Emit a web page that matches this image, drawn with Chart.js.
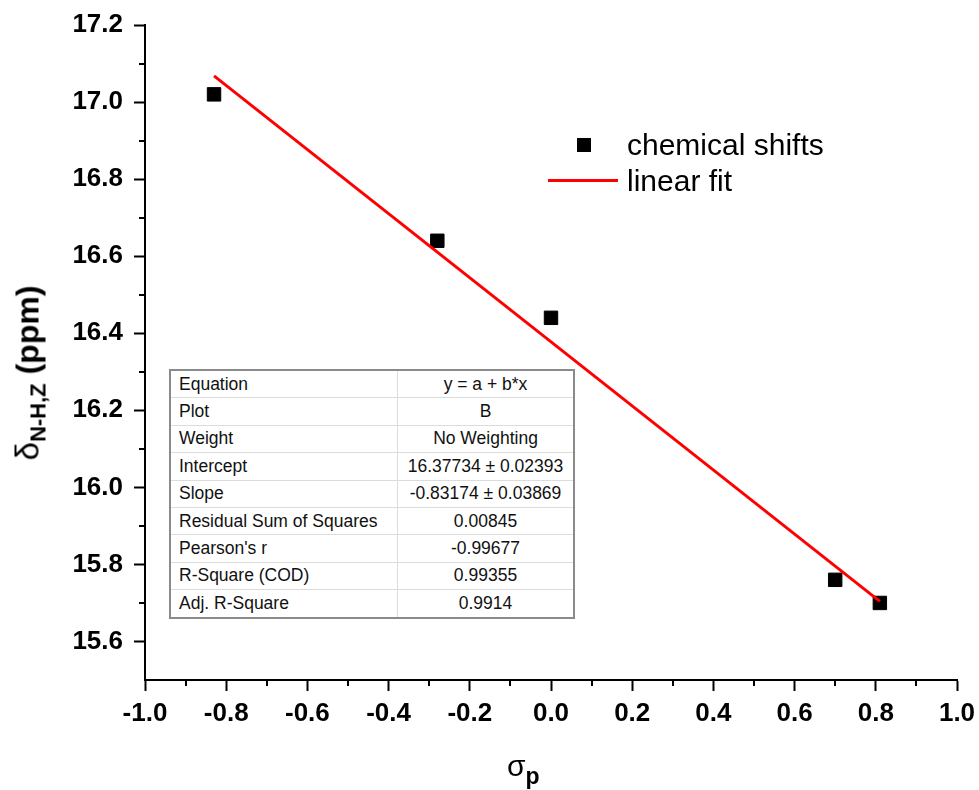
<!DOCTYPE html>
<html>
<head>
<meta charset="utf-8">
<script src="https://cdn.jsdelivr.net/npm/chart.js@4.4.1/dist/chart.umd.min.js"></script>
<style>
  body { margin: 0; background: #fff; }
  #wrap { position: relative; width: 979px; height: 790px; font-family: "Liberation Sans", Arial, sans-serif; color: #000; }
  #myChart { position: absolute; left: 0; top: 0; }
  .ytitle { position: absolute; left: 30px; top: 373px; transform: translate(-50%, -50%) rotate(-90deg); white-space: nowrap; font-size: 32px; font-weight: bold; line-height: 1; }
  .ytitle .g { font-weight: normal; font-size: 33px; }
  .ytitle sub { font-size: 22px; vertical-align: -7px; }
  .xtitle { position: absolute; left: 507px; top: 751px; white-space: nowrap; font-size: 30px; line-height: 1; }
  .xtitle sub { font-size: 23px; font-weight: bold; vertical-align: -8px; }
  #legend { position: absolute; left: 548px; top: 127px; font-size: 30px; }
  #legend .row { display: flex; align-items: center; height: 36px; }
  #legend .mk { width: 70px; height: 36px; position: relative; margin-right: 9px; }
  #legend .sq { position: absolute; left: 29px; top: 11px; width: 14px; height: 14px; background: #000; }
  #legend .ln { position: absolute; left: 0; top: 16px; width: 70px; height: 3px; background: #ff0000; }
  #fitTable { position: absolute; left: 169px; top: 369px; border-collapse: collapse; border: 2px solid #8a8a8a; background: #fff; font-size: 17.5px; color: #111; }
  #fitTable td { height: 26.4px; padding: 0; border: 1px solid #dcdcdc; white-space: nowrap; }
  #fitTable td.k { width: 218px; padding-left: 8px; }
  #fitTable td.v { width: 175px; text-align: center; }
</style>
</head>
<body>
<div id="wrap">
  <canvas id="myChart" width="979" height="790"></canvas>
  <div class="ytitle"><span class="g">δ</span><sub>N-H,Z</sub> (ppm)</div>
  <div class="xtitle">σ<sub>p</sub></div>
  <div id="legend"></div>
  <table id="fitTable"></table>
</div>
<script>
const sigmaP = [-0.83, -0.28, 0.00, 0.70, 0.81];
const shifts = [17.02, 16.64, 16.44, 15.76, 15.70];
const fitSigma = [-0.83, 0.81];
const fitShift = [17.068, 15.704];
const seriesNames = ['chemical shifts', 'linear fit'];
const xTicks = [-1.0, -0.8, -0.6, -0.4, -0.2, 0.0, 0.2, 0.4, 0.6, 0.8, 1.0];
const yTicks = [15.6, 15.8, 16.0, 16.2, 16.4, 16.6, 16.8, 17.0, 17.2];
const tableLabels = ['Equation', 'Plot', 'Weight', 'Intercept', 'Slope',
  'Residual Sum of Squares', "Pearson's r", 'R-Square (COD)', 'Adj. R-Square'];
const tableValues = ['y = a + b*x', 'B', 'No Weighting', '16.37734 ± 0.02393',
  '-0.83174 ± 0.03869', '0.00845', '-0.99677', '0.99355', '0.9914'];

const font = { family: '"Liberation Sans", Arial, sans-serif', size: 26, weight: 'bold' };

// petits ticks intermédiaires
const minorTicks = {
  id: 'minorTicks',
  afterDraw(chart) {
    const ctx = chart.ctx;
    const xs = chart.scales.x, ys = chart.scales.y;
    ctx.save();
    ctx.strokeStyle = '#000';
    ctx.lineWidth = 2;
    ctx.beginPath();
    for (let i = 0; i < xTicks.length - 1; i++) {
      const px = Math.round(xs.getPixelForValue((xTicks[i] + xTicks[i + 1]) / 2));
      ctx.moveTo(px, xs.top);
      ctx.lineTo(px, xs.top + 6);
    }
    for (let i = 0; i < yTicks.length - 1; i++) {
      const py = Math.round(ys.getPixelForValue((yTicks[i] + yTicks[i + 1]) / 2));
      ctx.moveTo(ys.right, py);
      ctx.lineTo(ys.right - 6, py);
    }
    ctx.stroke();
    ctx.restore();
  }
};

function axis(min, max, ticks, side) {
  return {
    type: 'linear',
    position: side,
    min: min,
    max: max,
    afterBuildTicks: s => { s.ticks = ticks.map(v => ({ value: v })); },
    afterFit: s => {
      if (side === 'left') {
        s.width = 145;
        s.paddingTop = 0;
        s.paddingBottom = 0;
      } else {
        s.height = 110;
        s.paddingLeft = 0;
        s.paddingRight = 0;
      }
    },
    ticks: {
      font: font,
      color: '#000',
      padding: side === 'left' ? 11 : 7,
      maxRotation: 0,
      autoSkip: false,
      callback: v => v.toFixed(1)
    },
    grid: { drawOnChartArea: false, color: '#000', tickColor: '#000', tickLength: 11, tickWidth: 2 },
    border: { display: true, color: '#000', width: 2 }
  };
}

const ctx = document.getElementById('myChart');
const chart = new Chart(ctx, {
  type: 'scatter',
  data: {
    datasets: [{
      label: seriesNames[0],
      data: sigmaP.map((x, i) => ({ x: x, y: shifts[i] })),
      pointStyle: 'rect',
      pointRadius: 9.5,
      backgroundColor: '#000',
      borderColor: '#000',
      borderWidth: 1,
      order: 2
    }, {
      label: seriesNames[1],
      data: fitSigma.map((x, i) => ({ x: x, y: fitShift[i] })),
      showLine: true,
      pointRadius: 0,
      borderColor: '#ff0000',
      borderWidth: 3,
      order: 1
    }]
  },
  options: {
    responsive: false,
    devicePixelRatio: 1,
    animation: false,
    events: [],
    layout: { padding: { top: 25, right: 22, left: 0, bottom: 0 } },
    plugins: { legend: { display: false }, tooltip: { enabled: false } },
    scales: {
      x: axis(-1, 1, xTicks, 'bottom'),
      y: axis(15.5, 17.2, yTicks, 'left')
    }
  },
  plugins: [minorTicks]
});

// légende
const legend = document.getElementById('legend');
chart.data.datasets.forEach(ds => {
  const row = document.createElement('div');
  row.className = 'row';
  const mk = document.createElement('div');
  mk.className = 'mk';
  const sym = document.createElement('div');
  sym.className = ds.showLine ? 'ln' : 'sq';
  mk.appendChild(sym);
  const txt = document.createElement('span');
  txt.textContent = ds.label;
  row.appendChild(mk);
  row.appendChild(txt);
  legend.appendChild(row);
});

// tableau des paramètres du fit
const table = document.getElementById('fitTable');
tableLabels.forEach((lab, i) => {
  const tr = document.createElement('tr');
  const a = document.createElement('td');
  a.className = 'k';
  a.textContent = lab;
  const b = document.createElement('td');
  b.className = 'v';
  b.textContent = tableValues[i];
  tr.appendChild(a);
  tr.appendChild(b);
  table.appendChild(tr);
});
</script>
</body>
</html>
